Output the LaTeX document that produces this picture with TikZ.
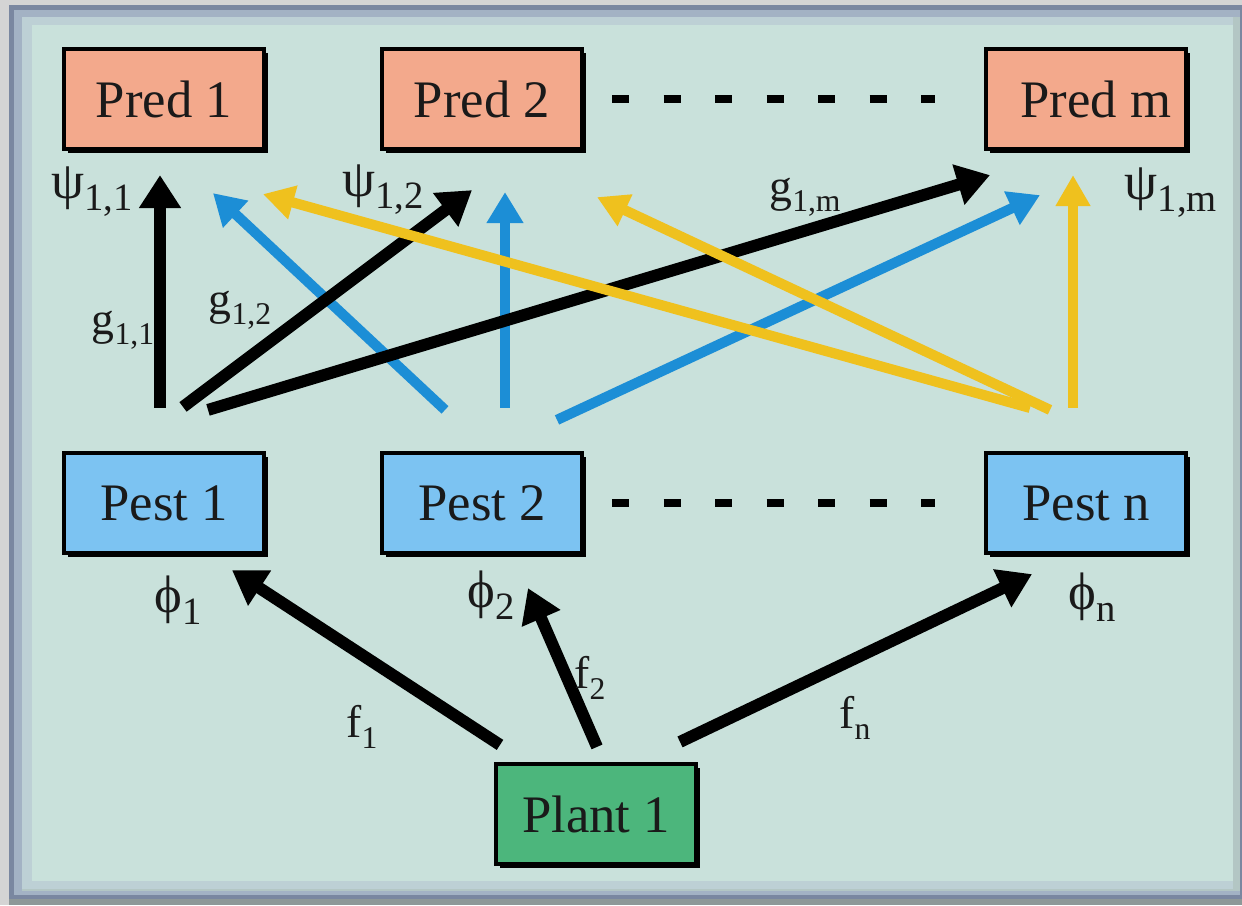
\documentclass[tikz,border=0pt]{standalone}
\usepackage{fontspec}
\setmainfont{Liberation Serif}
\usepackage{tikz}
\usetikzlibrary{arrows.meta, shadows}
\definecolor{outergray}{HTML}{D4D4D4}
\definecolor{framedark}{HTML}{7A87A0}
\definecolor{framemid}{HTML}{A3B2C4}
\definecolor{framelight}{HTML}{BDD0D5}
\definecolor{frameedge}{HTML}{B3C6C4}
\definecolor{framebottom}{HTML}{8E9898}
\definecolor{bgteal}{HTML}{C9E1DB}
\definecolor{predfill}{HTML}{F3A98C}
\definecolor{pestfill}{HTML}{7CC3F2}
\definecolor{plantfill}{HTML}{4CB67C}
\definecolor{arrblue}{HTML}{1C8ED6}
\definecolor{arryellow}{HTML}{EFC11E}
\definecolor{inkdark}{HTML}{1A1A1A}
\newcommand{\bigsub}[1]{\raisebox{-0.5ex}{\fontsize{11}{11}\selectfont #1}}
\newcommand{\smallsub}[1]{\raisebox{-0.5ex}{\fontsize{9}{9}\selectfont #1}}
\tikzstyle{box}=[rectangle,draw=black,line width=1.2pt,
  minimum width=2cm,minimum height=1cm,inner sep=0pt,
  font=\fontsize{15}{18}\selectfont,text=inkdark,
  drop shadow={shadow xshift=0.04cm,shadow yshift=-0.04cm,fill=black,opacity=1}]
\tikzstyle{predbox}=[box,fill=predfill]
\tikzstyle{pestbox}=[box,fill=pestfill]
\tikzstyle{plantbox}=[box,fill=plantfill]
\tikzstyle{biglbl}=[inner sep=0pt,font=\fontsize{15}{18}\selectfont,text=inkdark]
\tikzstyle{smalllbl}=[inner sep=0pt,font=\fontsize{13}{15}\selectfont,text=inkdark]
\tikzstyle{blkarr}=[-{Triangle[length=0.33cm,width=0.40cm]},line width=3.4pt,color=black]
\tikzstyle{bluarr}=[-{Triangle[length=0.31cm,width=0.35cm]},line width=2.9pt,color=arrblue]
\tikzstyle{yelarr}=[-{Triangle[length=0.31cm,width=0.33cm]},line width=2.9pt,color=arryellow]
\tikzstyle{dots}=[line width=2.2pt,dash pattern=on 0.17cm off 0.345cm]

\begin{document}
\begin{tikzpicture}
  \useasboundingbox (0,0) rectangle (12.42,9.05);
  % frame
  \fill[outergray] (0,0) rectangle (12.42,9.05);
  \fill[framebottom] (0.09,0.0) rectangle (12.42,9.00);
  \fill[framedark] (0.09,0.06) rectangle (12.42,9.00);
  \fill[framemid] (0.14,0.10) rectangle (12.40,8.95);
  \fill[frameedge] (0.22,0.14) rectangle (12.40,8.88);
  \fill[framelight] (0.22,0.16) rectangle (12.33,8.88);
  \fill[bgteal] (0.32,0.24) rectangle (12.33,8.80);

  \node[predbox] (pred1) at (1.64,8.06) {Pred 1};
  \node[predbox] (pred2) at (4.82,8.06) {Pred 2};
  \node[predbox] (predm) at (10.86,8.06) {\hspace{0.2cm}Pred m};
  \node[pestbox] (pest1) at (1.64,4.02) {Pest 1};
  \node[pestbox] (pest2) at (4.82,4.02) {Pest 2};
  \node[pestbox] (pestn) at (10.86,4.02) {Pest n};
  \node[plantbox] (plant) at (5.96,0.91) {Plant 1};

  \draw[dots,shorten <=0.28cm,shorten >=0.49cm] (pred2.east) -- (predm.west);
  \draw[dots,shorten <=0.28cm,shorten >=0.49cm] (pest2.east) -- (pestn.west);

  % plant to pests
  \draw[blkarr] ([shift={(-0.96,0.17)}]plant.north) -- ([shift={(0.68,-0.15)}]pest1.south);
  \draw[blkarr] ([shift={(0.01,0.15)}]plant.north) -- ([shift={(0.46,-0.33)}]pest2.south);
  \draw[blkarr] ([shift={(0.84,0.20)}]plant.north) -- ([shift={(-0.54,-0.19)}]pestn.south);

  % pests to predators
  \draw[bluarr] ([shift={(-0.37,0.41)}]pest2.north) -- ([shift={(0.49,-0.42)}]pred1.south);
  \draw[bluarr] ([shift={(0.23,0.43)}]pest2.north) -- ([shift={(0.23,-0.41)}]pred2.south);
  \draw[bluarr] ([shift={(0.75,0.31)}]pest2.north) -- ([shift={(-0.46,-0.44)}]predm.south);
  \draw[blkarr] ([shift={(-0.04,0.43)}]pest1.north) -- ([shift={(-0.04,-0.24)}]pred1.south);
  \draw[blkarr] ([shift={(0.19,0.44)}]pest1.north) -- ([shift={(-0.10,-0.39)}]pred2.south);
  \draw[blkarr] ([shift={(0.44,0.41)}]pest1.north) -- ([shift={(-0.96,-0.24)}]predm.south);
  \draw[yelarr] ([shift={(-0.56,0.43)}]pestn.north) -- ([shift={(0.99,-0.43)}]pred1.south);
  \draw[yelarr] ([shift={(-0.36,0.41)}]pestn.north) -- ([shift={(1.15,-0.46)}]pred2.south);
  \draw[yelarr] ([shift={(-0.13,0.43)}]pestn.north) -- ([shift={(-0.13,-0.24)}]predm.south);

  % labels
  \node[biglbl] (psi11) at (0.92,7.13) {ψ\bigsub{1,1}};
  \node[biglbl] (psi12) at (3.83,7.15) {ψ\bigsub{1,2}};
  \node[biglbl] (psi1m) at (11.71,7.12) {ψ\bigsub{1,m}};
  \node[smalllbl] (g11) at (1.23,5.75) {g\smallsub{1,1}};
  \node[smalllbl] (g12) at (2.40,5.95) {g\smallsub{1,2}};
  \node[smalllbl] (g1m) at (8.05,7.08) {g\smallsub{1,m}};
  \node[biglbl] (phi1) at (1.78,3.05) {ϕ\bigsub{1}};
  \node[biglbl] (phi2) at (4.91,3.10) {ϕ\bigsub{2}};
  \node[biglbl] (phin) at (10.92,3.08) {ϕ\bigsub{n}};
  \node[smalllbl] (f1) at (3.62,1.78) {f\smallsub{1}};
  \node[smalllbl] (f2) at (5.90,2.27) {f\smallsub{2}};
  \node[smalllbl] (fn) at (8.55,1.87) {f\smallsub{n}};
\end{tikzpicture}
\end{document}
